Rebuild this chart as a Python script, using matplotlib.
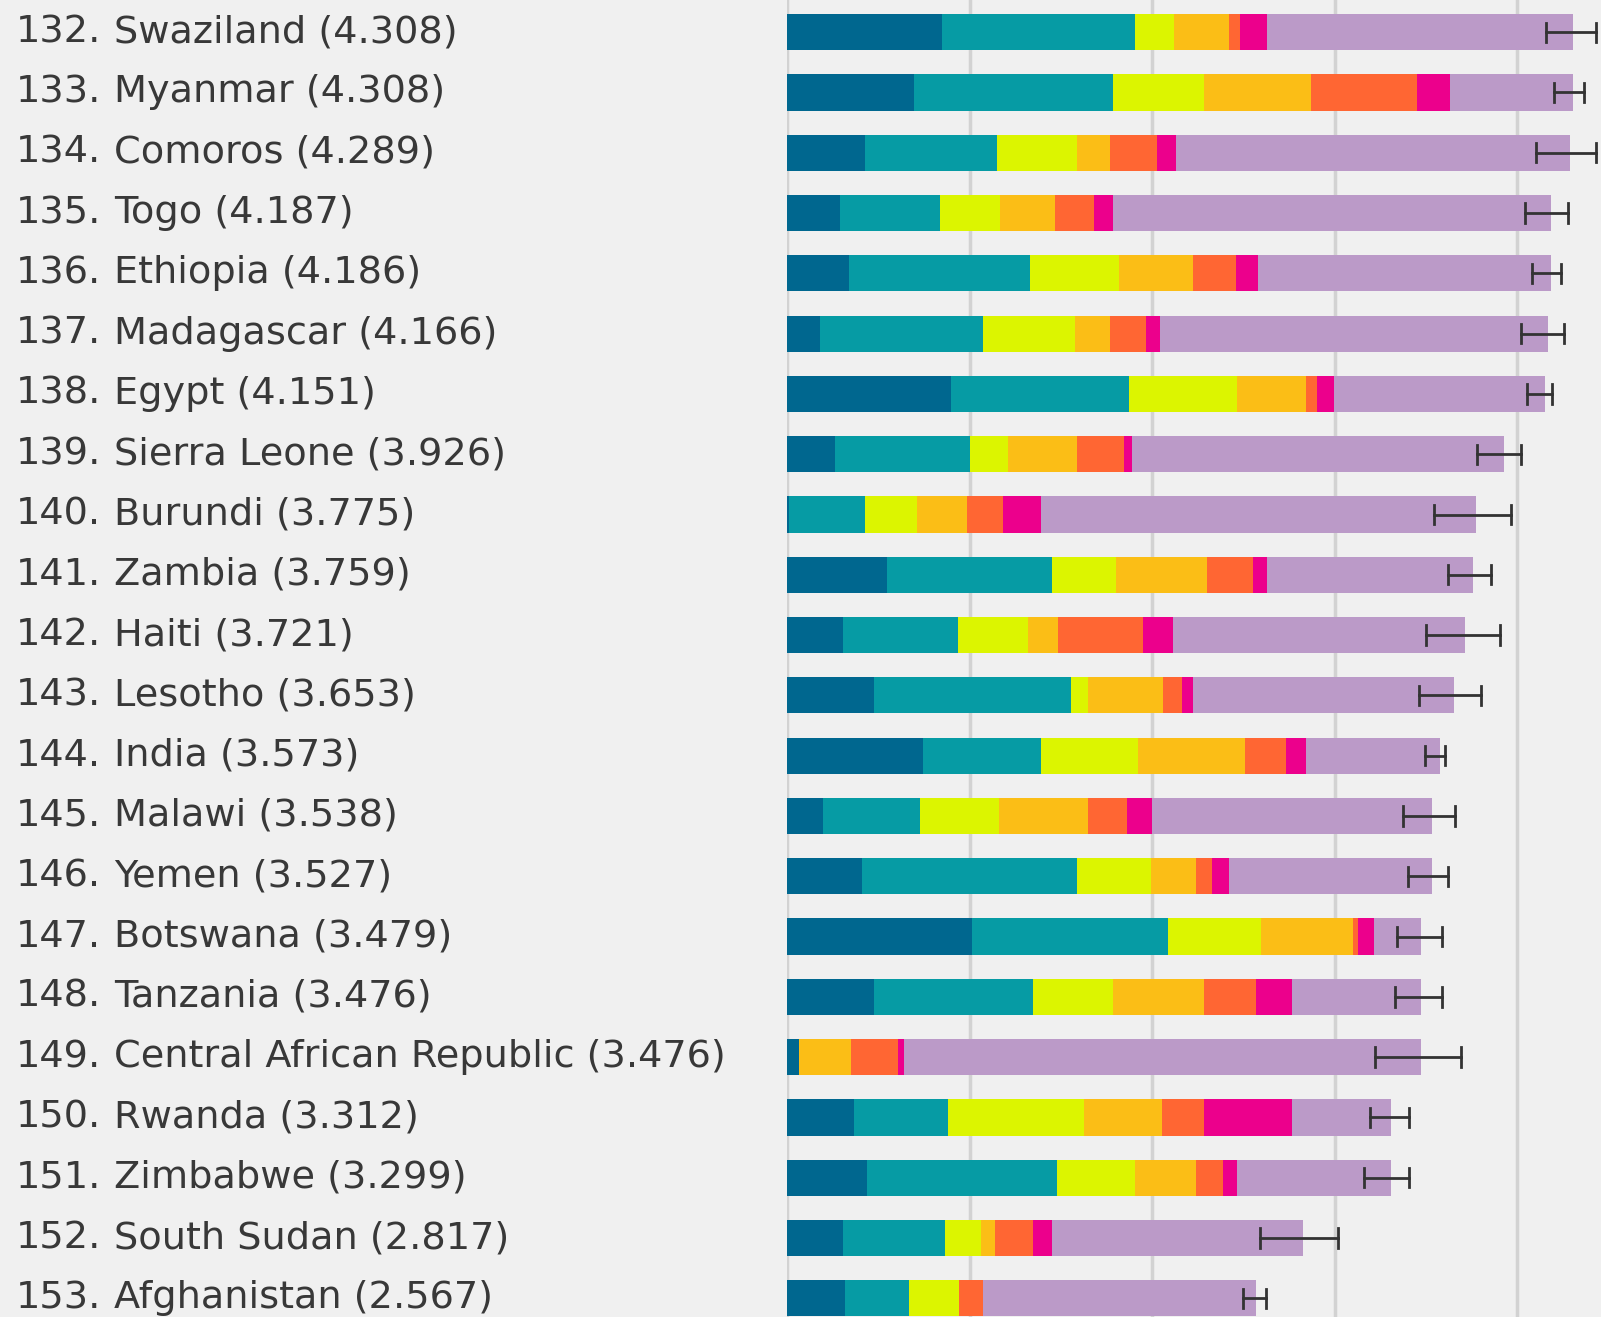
import matplotlib.pyplot as plt
import matplotlib.transforms as mtransforms

ranks = [132, 133, 134, 135, 136, 137, 138, 139, 140, 141, 142,
         143, 144, 145, 146, 147, 148, 149, 150, 151, 152, 153]
countries = ["Swaziland", "Myanmar", "Comoros", "Togo", "Ethiopia", "Madagascar",
             "Egypt", "Sierra Leone", "Burundi", "Zambia", "Haiti", "Lesotho",
             "India", "Malawi", "Yemen", "Botswana", "Tanzania",
             "Central African Republic", "Rwanda", "Zimbabwe", "South Sudan",
             "Afghanistan"]
scores = ["4.308", "4.308", "4.289", "4.187", "4.186", "4.166", "4.151", "3.926",
          "3.775", "3.759", "3.721", "3.653", "3.573", "3.538", "3.527", "3.479",
          "3.476", "3.476", "3.312", "3.299", "2.817", "2.567"]

# components
gdp = [0.847, 0.697, 0.425, 0.290, 0.336, 0.178, 0.896, 0.261, 0.009, 0.545, 0.304,
       0.474, 0.743, 0.198, 0.410, 1.013, 0.474, 0.063, 0.365, 0.439, 0.304, 0.319]
social = [1.059, 1.088, 0.723, 0.545, 0.996, 0.896, 0.979, 0.738, 0.416, 0.907, 0.634,
          1.082, 0.646, 0.528, 1.180, 1.073, 0.873, 0.000, 0.514, 1.042, 0.560, 0.347]
health = [0.212, 0.499, 0.442, 0.330, 0.485, 0.502, 0.591, 0.210, 0.287, 0.347, 0.379,
          0.092, 0.534, 0.436, 0.405, 0.511, 0.439, 0.000, 0.746, 0.425, 0.195, 0.273]
freedom = [0.304, 0.588, 0.178, 0.301, 0.408, 0.192, 0.376, 0.379, 0.273, 0.502, 0.166,
           0.410, 0.586, 0.485, 0.244, 0.502, 0.497, 0.287, 0.431, 0.333, 0.077, 0.000]
generosity = [0.057, 0.577, 0.258, 0.215, 0.232, 0.198, 0.060, 0.255, 0.195, 0.253, 0.468,
              0.103, 0.224, 0.215, 0.089, 0.029, 0.284, 0.255, 0.227, 0.149, 0.210, 0.135]
corruption = [0.152, 0.181, 0.103, 0.103, 0.123, 0.075, 0.092, 0.046, 0.210, 0.077, 0.164,
              0.063, 0.109, 0.135, 0.095, 0.089, 0.198, 0.032, 0.482, 0.077, 0.106, 0.000]
dystopia = [1.676, 0.677, 2.161, 2.400, 1.604, 2.130, 1.160, 2.038, 2.385, 1.128, 1.599,
            1.429, 0.738, 1.536, 1.111, 0.255, 0.709, 2.836, 0.545, 0.844, 1.372, 1.493]

# 95% confidence interval ends
ci_low = [4.156, 4.202, 4.102, 4.041, 4.084, 4.024, 4.056, 3.783, 3.542, 3.619, 3.499,
          3.464, 3.496, 3.375, 3.404, 3.344, 3.330, 3.220, 3.195, 3.163, 2.589, 2.497]
ci_high = [4.432, 4.366, 4.432, 4.280, 4.239, 4.257, 4.193, 4.024, 3.967, 3.858, 3.906,
           3.800, 3.605, 3.662, 3.619, 3.588, 3.588, 3.694, 3.407, 3.407, 3.017, 2.626]

components = [gdp, social, health, freedom, generosity, corruption, dystopia]
colors = ["#00678f", "#069ba4", "#dcf500", "#fbbe16", "#ff6633", "#ec008c", "#bb9ac8"]

bg = "#f0f0f0"
fig = plt.figure(figsize=(16.01, 13.17), dpi=100, facecolor=bg)
ax = fig.add_axes([787.3 / 1601, 0, 1 - 787.3 / 1601, 1], facecolor=bg)

y = list(range(len(countries)))
ax.set_xlim(0, 4.460)
ax.set_ylim(21.31, -0.534)

for gx in range(5):
    ax.axvline(gx, color="#d2d2d2", lw=2.5, zorder=0)

left = [0.0] * len(y)
for vals, c in zip(components, colors):
    ax.barh(y, vals, left=left, height=0.6, color=c, edgecolor="none", zorder=2)
    left = [a + b for a, b in zip(left, vals)]

for yi, lo, hi in zip(y, ci_low, ci_high):
    ax.plot([lo, hi], [yi, yi], color="#333333", lw=2, zorder=3)
    ax.plot([lo, lo], [yi - 0.16, yi + 0.16], color="#333333", lw=2, zorder=3)
    ax.plot([hi, hi], [yi - 0.16, yi + 0.16], color="#333333", lw=2, zorder=3)

ax.axis("off")

trans = mtransforms.blended_transform_factory(fig.transFigure, ax.transData)
for yi, r, name, s in zip(y, ranks, countries, scores):
    ax.text(16 / 1601, yi, f"{r}.", transform=trans, ha="left", va="center",
            fontsize=27.5, family="DejaVu Sans", color="#383838")
    ax.text(114 / 1601, yi, f"{name} ({s})", transform=trans, ha="left", va="center",
            fontsize=27.5, family="DejaVu Sans", color="#383838")

fig.savefig("out.png", dpi=100, facecolor=bg)
